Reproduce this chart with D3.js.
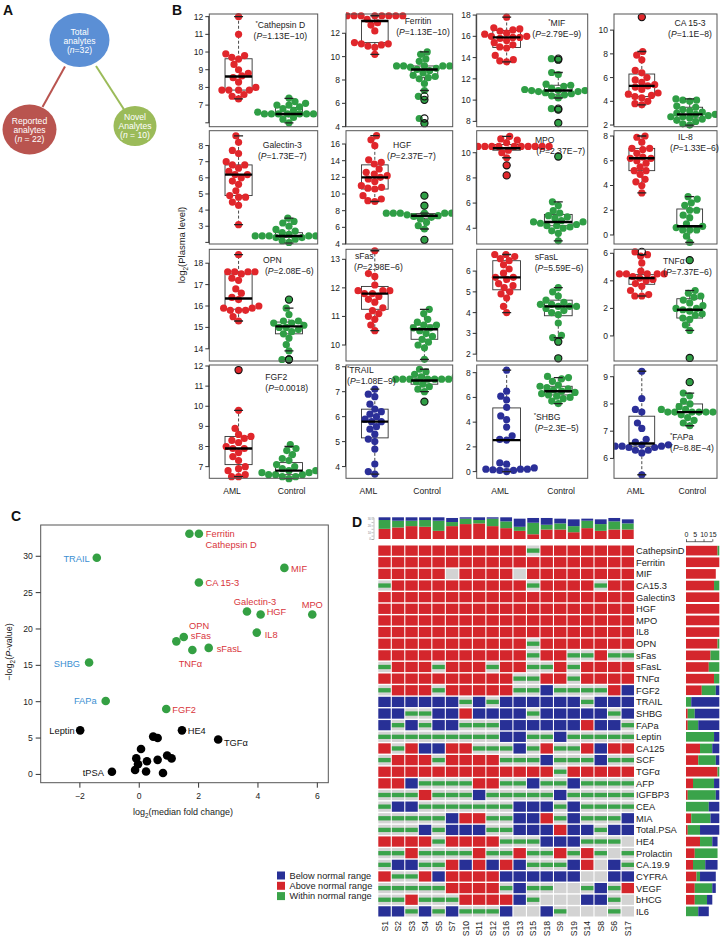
<!DOCTYPE html>
<html><head><meta charset="utf-8">
<script src="https://cdn.jsdelivr.net/npm/d3@7"></script>
<style>body{margin:0;background:#fff}svg{display:block;font-family:"Liberation Sans",Arial,sans-serif}</style>
</head><body><svg id="c" width="721" height="937"></svg>
<script>
// ---------- Panel B data ----------
const panelNames = ["Cathepsin D","Ferritin","MIF","CA 15-3","Galectin-3","HGF","MPO","IL-8","OPN","sFas","sFasL","TNFα","FGF2","TRAIL","SHBG","FAPa"];
const panelStar = [1,0,1,0,0,0,0,0,0,0,0,0,0,1,1,1];
const panelP = ["1.13E−10","1.13E−10","2.79E−9","1.1E−8","1.73E−7","2.37E−7","2.37E−7","1.33E−6","2.08E−6","2.98E−6","5.59E−6","7.37E−6","0.0018","1.08E−9","2.3E−5","8.8E−4"];
const panelDomains = [[5.78,12.15],[4.0,13.65],[7.5,18.1],[1.86,11.36],[1.9,8.92],[4.0,17.6],[2.75,11.75],[-0.73,8.43],[13.43,18.65],[9.44,13.35],[1.67,7.05],[-1.82,6.29],[6.42,12.05],[3.53,8.07],[-0.54,8.62],[5.27,9.43]];
const panelTicks = [[6,7,8,9,10,11,12],[4,6,8,10,12],[8,10,12,14,16,18],[2,4,6,8,10],[2,3,4,5,6,7,8],[4,6,8,10,12,14,16],[4,6,8,10],[0,2,4,6,8],[14,15,16,17,18],[10,11,12,13],[2,3,4,5,6],[0,2,4,6],[7,8,9,10,11,12],[4,5,6,7,8],[0,2,4,6,8],[6,7,8,9]];
const panelUnlabeled = [[6],[],[],[],[2],[],[],[],[],[],[],[],[],[],[],[]];
const amlGroup = ["up","up","up","up","up","up","up","up","up","up","up","up","up","down","down","down"];
const amlValues = [
 [12.0,11.0,9.9,9.8,9.7,9.6,9.3,9.0,8.8,8.65,8.55,8.3,8.0,7.85,7.85,7.85,7.85,7.6,7.5,7.35],
 [13.5,13.5,13.5,13.5,13.5,13.5,13.5,13.5,13.5,13.2,12.9,12.7,12.2,11.2,11.1,11.1,11.0,10.9,10.8,10.2],
 [17.8,16.8,16.7,16.6,16.5,16.3,16.2,16.0,16.0,15.9,15.9,15.8,15.6,15.4,15.2,15.0,14.9,14.2,13.8,13.7,13.6],
 [11.1,8.2,7.9,7.5,6.6,6.4,6.0,5.8,5.6,5.4,5.3,5.2,5.0,4.7,4.6,4.5,4.4,4.3,4.0,3.8,3.7],
 [8.6,8.2,7.7,7.5,7.0,6.8,6.8,6.6,6.4,6.2,6.2,6.0,5.8,5.6,5.2,4.9,4.8,4.8,4.5,4.3,3.1],
 [17.0,16.5,15.8,14.1,13.8,13.6,13.0,12.6,12.4,12.2,12.0,11.8,11.5,11.0,10.8,10.7,10.6,9.8,9.4,9.2,9.1],
 [11.3,11.1,11.0,10.8,10.5,10.5,10.5,10.5,10.5,10.5,10.5,10.5,10.5,10.5,10.5,10.2,10.0,9.6,9.0,8.2],
 [8.0,7.9,7.5,7.0,7.0,6.9,6.6,6.3,6.2,6.2,6.0,5.8,5.5,5.2,5.2,4.9,4.5,4.3,4.0,3.4],
 [18.4,17.6,17.6,17.6,17.6,17.5,17.3,17.2,16.8,16.6,16.4,16.3,16.0,15.9,15.9,15.8,15.8,15.8,15.5,15.3],
 [13.3,12.5,12.4,12.1,11.9,11.9,11.9,11.8,11.8,11.7,11.6,11.5,11.3,11.2,11.1,11.0,10.9,10.7,10.5],
 [6.8,6.8,6.7,6.6,6.5,6.3,6.1,5.9,5.7,5.7,5.6,5.4,5.3,5.2,5.0,4.9,4.7,4.3,4.0],
 [6.1,5.9,5.8,5.3,4.7,4.5,4.5,4.5,4.5,4.5,4.3,4.2,4.1,4.0,3.8,3.6,3.3,3.0,2.9,2.9],
 [11.8,9.8,8.9,8.6,8.5,8.4,8.3,8.2,8.0,7.9,7.9,7.7,7.5,7.3,7.0,6.9,6.8,6.6,6.5,6.5],
 [7.1,6.9,6.8,6.5,6.3,6.2,6.1,6.0,5.9,5.8,5.8,5.6,5.5,5.3,5.1,5.0,4.7,4.1,3.8,3.7],
 [8.2,6.5,6.1,5.8,5.2,4.5,4.2,3.6,2.9,2.6,2.55,0.7,0.6,0.3,0.2,0.2,0.2,0.15,0.1,0.1,0.0],
 [9.2,8.2,7.8,7.7,7.3,7.1,6.7,6.6,6.5,6.5,6.45,6.45,6.45,6.4,6.4,6.3,6.3,6.2,5.4]
];
const ctrlValues = [
 [7.4,7.2,7.1,7.0,7.0,6.9,6.8,6.7,6.6,6.5,6.5,6.5,6.5,6.5,6.5,6.5,6.3,6.2,6.0],
 [10.4,10.2,9.8,9.6,9.3,9.2,9.2,9.2,9.2,9.2,9.1,9.0,8.9,8.8,8.6,8.4,8.3,8.2,8.1,7.7,7.1,6.6,6.3,4.7,4.3],
 [13.9,13.8,12.6,12.4,11.5,11.4,11.3,11.1,11.0,11.0,10.9,10.9,10.9,10.8,10.8,10.7,10.6,10.5,10.4,10.2,9.2,9.1,7.85],
 [4.2,4.1,4.1,4.0,3.6,3.5,3.3,3.2,3.1,3.0,2.9,2.9,2.8,2.7,2.7,2.6,2.5,2.4,2.3,2.1,2.0],
 [3.5,3.3,3.2,3.0,2.8,2.7,2.6,2.5,2.5,2.4,2.4,2.4,2.4,2.4,2.3,2.3,2.2,2.1,2.0],
 [9.8,8.6,7.7,7.7,7.7,7.7,7.7,7.7,7.7,7.7,7.5,7.4,7.3,7.2,7.0,6.6,6.2,5.8,4.5],
 [9.7,6.1,5.8,5.4,5.2,5.0,4.9,4.8,4.6,4.5,4.5,4.4,4.3,4.2,4.2,4.1,4.0,3.8,3.6,3.0],
 [3.1,2.9,2.6,2.4,2.0,2.0,1.6,1.4,0.9,0.7,0.6,0.4,0.4,0.4,-0.1,-0.6],
 [16.3,15.9,15.6,15.3,15.3,15.2,15.2,15.1,15.0,15.0,14.9,14.8,14.7,14.5,14.2,13.9,13.5,13.5],
 [11.25,11.1,10.9,10.8,10.7,10.7,10.6,10.6,10.5,10.4,10.3,10.2,10.1,10.0,9.9,9.5],
 [5.2,5.0,4.8,4.6,4.5,4.4,4.4,4.3,4.3,4.3,4.2,4.1,4.0,3.9,3.5,2.9,2.8,2.6,1.8],
 [5.5,3.3,3.1,2.9,2.8,2.6,2.4,2.2,2.0,2.0,1.9,1.8,1.6,1.5,1.3,1.2,0.8,0.4,-1.6],
 [8.1,7.9,7.8,7.6,7.4,7.3,7.1,7.0,6.9,6.8,6.8,6.7,6.7,6.6,6.6,6.6,6.5,6.5,6.4],
 [7.9,7.8,7.7,7.6,7.6,7.5,7.5,7.5,7.5,7.5,7.5,7.5,7.4,7.3,7.2,7.1,7.0,6.6],
 [7.7,7.6,7.5,7.3,7.0,6.9,6.8,6.7,6.6,6.5,6.4,6.3,6.2,6.1,6.0,5.9,5.7,5.5],
 [8.8,8.4,8.3,8.1,8.0,7.9,7.8,7.8,7.7,7.7,7.7,7.7,7.7,7.7,7.6,7.5,7.4,7.3,7.2]
];
// box stats: [whisker low, Q1, median, Q3, whisker high]
const amlBox = [[7.35,7.85,8.62,9.62,12.0],[10.2,11.2,13.05,13.1,13.5],[13.6,14.95,15.9,16.55,17.8],[3.7,4.4,5.3,6.3,8.2],[3.1,4.9,6.2,6.8,8.6],[9.1,10.6,12.0,13.5,17.0],[9.6,10.2,10.35,10.65,11.3],[3.4,5.2,6.2,7.0,8.0],[15.3,15.85,16.35,17.5,18.4],[10.5,11.25,11.8,12.05,13.3],[4.0,5.1,5.7,6.5,6.8],[2.9,3.75,4.2,4.45,5.9],[6.5,7.1,7.9,8.5,9.8],[3.7,5.15,5.8,6.3,7.1],[0.0,0.2,2.55,5.15,8.2],[5.4,6.45,6.55,7.55,9.2]];
const ctrlBox = [[6.0,6.45,6.5,6.87,7.38],[7.1,8.2,8.9,9.2,10.4],[10.2,10.5,10.9,11.4,12.6],[2.0,2.6,2.9,3.5,4.2],[1.95,2.3,2.4,2.6,3.5],[5.8,7.1,7.4,7.65,7.7],[3.0,4.2,4.5,5.1,6.1],[-0.6,0.65,0.7,2.1,3.1],[13.9,14.7,15.05,15.25,15.9],[9.5,10.2,10.55,10.7,11.25],[2.8,3.85,4.3,4.6,5.2],[0.4,1.3,1.9,2.7,3.3],[6.4,6.6,6.8,7.2,8.0],[7.0,7.3,7.45,7.55,7.9],[5.5,6.2,6.5,6.9,7.6],[7.2,7.7,7.7,8.0,8.4]];
const amlOutliers = [[],[],[],[11.1],[],[],[9.0,8.2],[],[],[],[],[6.1],[11.8],[],[],[]];
const ctrlOutliers = [[],[6.6,6.3,4.7,4.3],[13.9,13.8,9.2,9.1,7.85],[],[],[9.8,8.6,4.5],[9.7],[],[16.3,13.5,13.5],[],[2.6,1.8],[5.5,-1.6],[],[6.6],[],[8.8]];
const groupLabels = ["AML","Control"];

// ---------- Panel C data ----------
const volcanoNames = ["Ferritin","Cathepsin D","TRAIL","MIF","CA 15-3","Galectin-3","HGF","MPO","IL8","OPN","sFas","TNFα","sFasL","SHBG","FAPa","FGF2","Leptin","HE4","TGFα","tPSA","n1","n2","n3","n4","n5","n6","n7","n8","n9","n10","n11","n12"];
const volcanoFold = [1.69,2.01,-1.43,4.89,2.01,3.63,4.09,5.83,3.96,1.25,1.50,1.79,2.34,-1.69,-1.13,0.91,-1.99,1.44,2.66,-0.92,0.47,0.62,0.06,-0.10,0.26,0.62,0.94,1.09,-0.04,-0.14,0.23,0.80];
const volcanoLogP = [33.1,33.1,29.8,28.4,26.4,22.4,22.0,22.0,19.5,18.3,18.9,17.1,17.4,15.4,10.1,9.0,6.06,6.06,4.8,0.37,5.2,5.0,3.5,2.2,1.8,2.0,2.6,2.2,1.4,0.6,0.4,0.2];
const volcanoClass = ["up","up","down","up","up","up","up","up","up","up","up","up","up","down","down","up","ns","ns","ns","ns","ns","ns","ns","ns","ns","ns","ns","ns","ns","ns","ns","ns"];
const volcanoLabeled = ["Ferritin","Cathepsin D","TRAIL","MIF","CA 15-3","Galectin-3","HGF","MPO","IL8","OPN","sFas","TNFα","sFasL","SHBG","FAPa","FGF2","Leptin","HE4","TGFα","tPSA"];
const volcanoXTicks = [-2,0,2,4,6];
const volcanoYTicks = [0,5,10,15,20,25,30];

// ---------- Panel D data ----------
const sampleNames = ["S1","S2","S3","S4","S5","S7","S10","S11","S12","S16","S13","S15","S18","S9","S19","S14","S8","S6","S17"];
const analyteNames = ["CathepsinD","Ferritin","MIF","CA15.3","Galectin3","HGF","MPO","IL8","OPN","sFas","sFasL","TNFα","FGF2","TRAIL","SHBG","FAPa","Leptin","CA125","SCF","TGFα","AFP","IGFBP3","CEA","MIA","Total.PSA","HE4","Prolactin","CA.19.9","CYFRA","VEGF","bHCG","IL6"];
// R = above, G = within, B = below normal range, N = not available
const heatRows = [
 "RRRRRRRRRRRGRRRRRRR","RRRRRRRRRRRRRRRRRRR","RRRRRNRRRRNRRRRRRRR","GRRRRRRRRRRGRRRRGRR",
 "RRRRRRRRRRRRRRRRRRR","RRRRRRRRRRRRRRRRRRR","RRRRRRRRRRRRRRRRRRR","RRRRRRRRRRRRRRRRRRR",
 "RRRRRRRRRRRGRRRRRRR","RRRRRRRRRRRGRRGGRGG","GRRRGRRRGRRGGRGRRRR","RRRRRRRRRRGGRRGRRRR",
 "GRRRGRRRRRGGBGGGGRB","BBBBBBGBGBBBBBBGBBB","BBGGBBRBBBBGBBBBBGB","BGBGBBGGGBBBBBBRBBG",
 "GGGGGGGGGBBGGBGGGGG","RGRBBRRGGGBGRGGRBRR","GRRRGRRRRGGGBGGGBGG","RRRRRRRRRRRRRGRRRRR",
 "RRBGGGGRRGGBGGBGGGG","GGGRGGGBGGGGGBGGGGG","GBBGGGGGGGBBBGBGGGG","GGGGGBRRGGBBRGBGGGB",
 "GGGBGBBBGGBBBRBBGBB","RRRRGRRRRGGGBBBGGGN","GGRGGGGRGGRGGRGRGNG","GBBGGRBRBRBGGGBRNBG",
 "RGGRBRRRRBBBBBBNNBB","GGGGGRRRRGBGGNNGBGR","GGRGGGRRRRBGNNNBBGN","BBGBGBGGGBNNBGNNNGN"
];
const legendLabels = ["Below normal range","Above normal range","Within normal range"];
const rightTicks = [0,5,10,15];
const topTicks = [0,5,10,15,20,25,30];
const topTickLabels = [0,10,20,30];

// ---------- Panel A data ----------
const nodeLines = [["Total","analytes","(n=32)"],["Reported","analytes","(n = 22)"],["Novel","Analytes","(n = 10)"]];

// ================= drawing =================
const svg = d3.select("#c");
const FONT = "'Liberation Sans', Arial, sans-serif";
const RED="#e0262b", GREEN="#2f9e45", BLUE="#2b2f98";

function panelLetter(t,x,y){svg.append("text").attr("x",x).attr("y",y).attr("font-size",14).attr("font-weight","bold").attr("fill","#111").text(t);}
panelLetter("A",3,15); panelLetter("B",172,15); panelLetter("C",11,521); panelLetter("D",352,527);

// ---- Panel A ----
(function(){
  const nodes=[{cx:79.5,cy:40,rx:30,ry:27,fill:"#5b8fd5"},{cx:29.5,cy:129.5,rx:27,ry:25,fill:"#b9544f"},{cx:135,cy:126,rx:21.5,ry:20,fill:"#9bbb59"}];
  svg.append("line").attr("x1",65).attr("y1",66.5).attr("x2",42.5).attr("y2",107).attr("stroke","#b9544f").attr("stroke-width",2);
  svg.append("line").attr("x1",96).attr("y1",66).attr("x2",124).attr("y2",109.5).attr("stroke","#9bbb59").attr("stroke-width",2);
  const baselines=[[35,43.5,53],[124,132.5,142],[120,129,138]];
  nodes.forEach((n,i)=>{
    svg.append("ellipse").attr("cx",n.cx).attr("cy",n.cy).attr("rx",n.rx).attr("ry",n.ry).attr("fill",n.fill);
    nodeLines[i].forEach((s,j)=>{
      const t=svg.append("text").attr("x",n.cx).attr("y",baselines[i][j]).attr("text-anchor","middle").attr("font-size",8.6).attr("fill","#fff");
      if(s.startsWith("(n")){t.append("tspan").text("(");t.append("tspan").attr("font-style","italic").text("n");t.append("tspan").text(s.slice(2));}
      else t.text(s);
    });
  });
})();

// ---- Panel B ----
(function(){
  const colL=[209.3,346,476.7,614], colR=[317.7,452.7,587.7,717];
  const rowT=[14,130.7,249.3,365], rowB=[126.7,244,361,478.3];
  // label layout: [nameX, pX, anchor, nameY] relative to panel
  const lab=[[71,71,"middle",14],[72,77,"middle",9.5],[80,80,"middle",12],[76,76,"middle",12],
             [73,73,"middle",17],[47,41,"start",17],[68,84,"middle",12.3],[64,56,"start",9.3],
             [63,80,"middle",13.2],[9,8,"start",9.7],[58,58,"start",10.7],[49,49,"start",14.7],
             [56,56,"start",15],[1,1,"start",8],[57,58,"start",55],[56,56,"start",74.5]];
  const r=3.6;
  const defs=svg.append("defs");
  function swarm(vals,cx,yS){
    const pts=vals.map(v=>({v,y:yS(v)})).sort((a,b)=>b.y-a.y);
    const placed=[]; const d=2*r*0.97;
    pts.forEach(p=>{
      const near=placed.filter(q=>Math.abs(q.y-p.y)<d);
      const c=[0]; near.forEach(q=>{const w=Math.sqrt(d*d-(q.y-p.y)**2); c.push(q.dx-w,q.dx+w);});
      c.sort((a,b)=>Math.abs(a)-Math.abs(b));
      let best=0;
      for(const k of c){ if(near.every(q=>Math.abs(q.dx-k)>=Math.sqrt(d*d-(q.y-p.y)**2)-1e-6)){best=k;break;} }
      p.dx=best; placed.push(p);
    });
    return placed.map(p=>({x:cx+p.dx,y:p.y}));
  }
  panelNames.forEach((name,i)=>{
    const c=i%4, rw=Math.floor(i/4);
    const x0=colL[c], x1=colR[c], y0=rowT[rw], y1=rowB[rw], W=x1-x0;
    defs.append("clipPath").attr("id","clip"+i).append("rect").attr("x",x0).attr("y",y0-6).attr("width",W).attr("height",y1-y0+12);
    const g=svg.append("g");
    const y=d3.scaleLinear().domain(panelDomains[i]).range([y1,y0]);
    const x=d3.scalePoint().domain(groupLabels).range([x0+W*0.27,x0+W*0.735]);
    const bw=W*0.25;
    const sets=[{vals:amlValues[i],box:amlBox[i],out:amlOutliers[i],col:amlGroup[i]==="up"?RED:BLUE,cx:x("AML")},
                {vals:ctrlValues[i],box:ctrlBox[i],out:ctrlOutliers[i],col:GREEN,cx:x("Control")}];
    const pg=g.append("g").attr("clip-path",`url(#clip${i})`);
    sets.forEach(s=>{
      const b=s.box;
      pg.append("line").attr("x1",s.cx).attr("x2",s.cx).attr("y1",y(b[3])).attr("y2",y(b[4])).attr("stroke","#333").attr("stroke-dasharray","3,2").attr("stroke-width",0.9);
      pg.append("line").attr("x1",s.cx).attr("x2",s.cx).attr("y1",y(b[1])).attr("y2",y(b[0])).attr("stroke","#333").attr("stroke-dasharray","3,2").attr("stroke-width",0.9);
      pg.append("rect").attr("x",s.cx-bw/2).attr("y",y(b[3])).attr("width",bw).attr("height",Math.max(0.5,y(b[1])-y(b[3]))).attr("fill","none").attr("stroke","#333").attr("stroke-width",0.9);
      const pts=swarm(s.vals,s.cx,y);
      pg.selectAll(null).data(pts).join("circle").attr("cx",d=>d.x).attr("cy",d=>d.y).attr("r",r).attr("fill",s.col);
      pg.append("line").attr("x1",s.cx-bw/2).attr("x2",s.cx+bw/2).attr("y1",y(b[2])).attr("y2",y(b[2])).attr("stroke","#000").attr("stroke-width",2.4);
      [b[0],b[4]].forEach(v=>pg.append("line").attr("x1",s.cx-4.5).attr("x2",s.cx+4.5).attr("y1",y(v)).attr("y2",y(v)).attr("stroke","#222").attr("stroke-width",1.3));
      pg.selectAll(null).data(s.out).join("circle").attr("cx",s.cx).attr("cy",d=>y(d)).attr("r",r).attr("fill","none").attr("stroke","#111").attr("stroke-width",1.1);
    });
    g.append("rect").attr("x",x0).attr("y",y0).attr("width",W).attr("height",y1-y0).attr("fill","none").attr("stroke","#555").attr("stroke-width",1);
    // y axis
    const ax=g.append("g");
    panelTicks[i].forEach(t=>{
      ax.append("line").attr("x1",x0-4).attr("x2",x0).attr("y1",y(t)).attr("y2",y(t)).attr("stroke","#333");
      if(!panelUnlabeled[i].includes(t)) ax.append("text").attr("x",x0-6).attr("y",y(t)+3).attr("text-anchor","end").attr("font-size",8.5).attr("fill","#222").text(t);
    });
    ax.append("line").attr("x1",x0-0.5).attr("x2",x0-0.5).attr("y1",y(panelTicks[i][0])).attr("y2",y(panelTicks[i][panelTicks[i].length-1])).attr("stroke","#333");
    // labels
    const L=lab[i];
    const t1=g.append("text").attr("x",x0+L[0]).attr("y",y0+L[3]).attr("text-anchor",L[2]).attr("font-size",8.6).attr("fill","#222");
    if(panelStar[i]) t1.append("tspan").attr("font-size",6).attr("dy",-3).text("*");
    t1.append("tspan").attr("dy",panelStar[i]?3:0).text(name);
    const t2=g.append("text").attr("x",x0+L[1]).attr("y",y0+L[3]+11).attr("text-anchor",L[2]).attr("font-size",8.6).attr("fill","#222");
    t2.append("tspan").text("(");t2.append("tspan").attr("font-style","italic").text("P");t2.append("tspan").text("="+panelP[i]+")");
    if(rw===3){
      groupLabels.forEach((gl,k)=>g.append("text").attr("x",x0+W*(k===0?0.21:0.76)).attr("y",494).attr("text-anchor","middle").attr("font-size",8.6).attr("fill","#222").text(gl));
    }
  });
  const yl=svg.append("text").attr("transform","translate(185,245) rotate(-90)").attr("text-anchor","middle").attr("font-size",9.5).attr("fill","#222");
  yl.append("tspan").text("log");yl.append("tspan").attr("font-size",6.5).attr("dy",2.5).text("2");yl.append("tspan").attr("dy",-2.5).text("(Plasma level)");
})();

// ---- Panel C ----
(function(){
  const X0=40.7,X1=328.3,Y0=525,Y1=782.7;
  const x=d3.scaleLinear().domain([-3.32,6.37]).range([X0,X1]);
  const y=d3.scaleLinear().domain([-1.14,34.3]).range([Y1,Y0]);
  const g=svg.append("g");
  g.append("rect").attr("x",X0).attr("y",Y0).attr("width",X1-X0).attr("height",Y1-Y0).attr("fill","none").attr("stroke","#555").attr("stroke-width",1);
  volcanoXTicks.forEach(t=>{
    g.append("line").attr("x1",x(t)).attr("x2",x(t)).attr("y1",Y1).attr("y2",Y1+5).attr("stroke","#333");
    g.append("text").attr("x",x(t)).attr("y",Y1+16).attr("text-anchor","middle").attr("font-size",8.6).attr("fill","#222").text(t<0?"−"+(-t):t);
  });
  volcanoYTicks.forEach(t=>{
    g.append("line").attr("x1",X0-5).attr("x2",X0).attr("y1",y(t)).attr("y2",y(t)).attr("stroke","#333");
    g.append("text").attr("x",X0-8).attr("y",y(t)+3).attr("text-anchor","end").attr("font-size",8.6).attr("fill","#222").text(t);
  });
  const xl=g.append("text").attr("x",183).attr("y",815).attr("text-anchor","middle").attr("font-size",9).attr("fill","#222");
  xl.append("tspan").text("log");xl.append("tspan").attr("font-size",6.3).attr("dy",2.5).text("2");xl.append("tspan").attr("dy",-2.5).text("(median fold change)");
  const yl=g.append("text").attr("transform","translate(12,652) rotate(-90)").attr("text-anchor","middle").attr("font-size",9).attr("fill","#222");
  yl.append("tspan").text("−log");yl.append("tspan").attr("font-size",6.3).attr("dy",2.5).text("2");yl.append("tspan").attr("dy",-2.5).text("(");yl.append("tspan").attr("font-style","italic").text("P");yl.append("tspan").text("-value)");
  const pts=volcanoNames.map((n,i)=>({n,fx:volcanoFold[i],lp:volcanoLogP[i],cl:volcanoClass[i]}));
  g.selectAll(null).data(pts).join("circle").attr("cx",d=>x(d.fx)).attr("cy",d=>y(d.lp)).attr("r",4.3).attr("fill",d=>d.cl==="ns"?"#000":"#34a043");
  const place={"Ferritin":[16.4,3.5,"start"],"Cathepsin D":[6.7,13.8,"start"],"TRAIL":[-7,3.8,"end"],"MIF":[6.7,3.8,"start"],"CA 15-3":[6.7,3.5,"start"],
    "Galectin-3":[8,-6.8,"middle"],"HGF":[6,0.5,"start"],"MPO":[0,-6.8,"middle"],"IL8":[8,5,"start"],"OPN":[22.7,-12.3,"middle"],"sFas":[7,2.5,"start"],
    "TNFα":[-2,16.5,"middle"],"sFasL":[8,4.5,"start"],"SHBG":[-9,4.8,"end"],"FAPa":[-9,3.5,"end"],"FGF2":[6,4,"start"],"Leptin":[-5.5,3.2,"end"],
    "HE4":[5.7,3.3,"start"],"TGFα":[5.7,6.3,"start"],"tPSA":[-8,4,"end"]};
  const lcol={up:"#d8343b",down:"#3b8fd2",ns:"#111"};
  pts.filter(d=>volcanoLabeled.includes(d.n)).forEach(d=>{
    const p=place[d.n];
    g.append("text").attr("x",x(d.fx)+p[0]).attr("y",y(d.lp)+p[1]).attr("text-anchor",p[2]).attr("font-size",9.3).attr("fill",lcol[d.cl]).text(d.n);
  });
})();

// ---- Panel D ----
(function(){
  const colMap={R:"#d4262c",G:"#3aa34a",B:"#283096",N:"#d3d3d3"};
  const hx=d3.scaleBand().domain(sampleNames).range([378.3,634]).paddingInner(0.08);
  const hy=d3.scaleBand().domain(analyteNames).range([545.5,916.5]).paddingInner(0.12);
  const g=svg.append("g");
  const cells=[];
  heatRows.forEach((row,ri)=>row.split("").forEach((v,ci)=>cells.push({a:analyteNames[ri],s:sampleNames[ci],v})));
  g.selectAll(null).data(cells).join("rect").attr("x",d=>hx(d.s)).attr("y",d=>hy(d.a)).attr("width",hx.bandwidth()).attr("height",hy.bandwidth())
    .attr("fill",d=>d.v==="G"?"#d3d3d3":colMap[d.v]);
  g.selectAll(null).data(cells.filter(d=>d.v==="G")).join("rect").attr("x",d=>hx(d.s)).attr("y",d=>hy(d.a)+hy.bandwidth()*0.29).attr("width",hx.bandwidth()).attr("height",hy.bandwidth()*0.42).attr("fill",colMap.G);
  analyteNames.forEach(a=>g.append("text").attr("x",636).attr("y",hy(a)+hy.bandwidth()/2+3.4).attr("font-size",9.3).attr("fill","#222").text(a));
  sampleNames.forEach(s=>g.append("text").attr("transform",`translate(${hx(s)+hx.bandwidth()/2+3},921) rotate(-90)`).attr("text-anchor","end").attr("font-size",8.6).attr("fill","#222").text(s));
  // top stacked bars
  const order=["R","G","B"];
  const ty=d3.scaleLinear().domain([0,32]).range([539,517.3]);
  sampleNames.forEach((s,ci)=>{
    let acc=0;
    order.forEach(k=>{
      const n=heatRows.filter(r=>r[ci]===k).length;
      g.append("rect").attr("x",hx(s)+0.3).attr("y",ty(acc+n)).attr("width",hx.bandwidth()-0.6).attr("height",ty(acc)-ty(acc+n)).attr("fill",colMap[k]);
      acc+=n;
    });
  });
  const ta=g.append("g").attr("transform","translate(373.5,0)").call(d3.axisLeft(ty).tickValues(topTicks).tickSize(2).tickFormat(v=>topTickLabels.includes(v)?v:""));
  ta.selectAll("text").attr("font-size",3).attr("fill","#888").attr("x",-2.5);
  ta.selectAll("line,path").attr("stroke","#999").attr("stroke-width",0.6);
  // right bars
  const rx=d3.scaleLinear().domain([0,19]).range([686,719.3]);
  analyteNames.forEach((a,ri)=>{
    let acc=0;
    order.forEach(k=>{
      const n=heatRows[ri].split("").filter(v=>v===k).length;
      if(n>0) g.append("rect").attr("x",rx(acc)).attr("y",hy(a)+0.3).attr("width",rx(acc+n)-rx(acc)).attr("height",hy.bandwidth()-0.6).attr("fill",colMap[k]);
      acc+=n;
    });
  });
  const ra=g.append("g").attr("transform","translate(0,541.7)").call(d3.axisTop(rx).tickValues(rightTicks).tickSize(2.5).tickPadding(2));
  ra.selectAll("text").attr("font-size",7).attr("fill","#222").attr("font-family",FONT);
  ra.selectAll("line,path").attr("stroke","#222").attr("stroke-width",0.7);
  ra.select("path").attr("d",`M${rx(0)},0H${rx(15)}`);
  // legend
  const lc=[colMap.B,colMap.R,colMap.G];
  legendLabels.forEach((l,i)=>{
    g.append("rect").attr("x",277).attr("y",871.5+i*10.3).attr("width",8).attr("height",8).attr("fill",lc[i]);
    g.append("text").attr("x",289.5).attr("y",878.7+i*10.3).attr("font-size",9.2).attr("fill","#222").text(l);
  });
})();
</script></body></html>
